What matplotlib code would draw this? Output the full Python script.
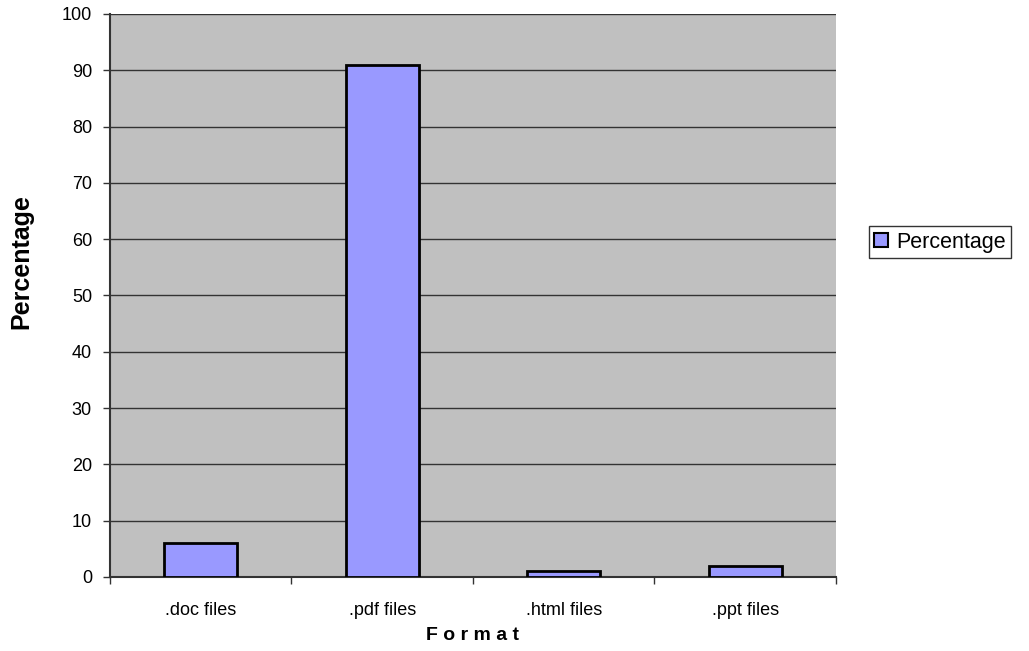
import matplotlib as mpl
mpl.use('Agg')
import matplotlib.pyplot as plt
import numpy as np

formats = ['.doc files', '.pdf files', '.html files', '.ppt files']
percentage = [6, 91, 1, 2]
y_ticks = [0, 10, 20, 30, 40, 50, 60, 70, 80, 90, 100]

plt.rcParams['font.family'] = ['Liberation Sans', 'DejaVu Sans']

fig = plt.figure(figsize=(10.29, 6.51), dpi=100)
ax = fig.add_axes([0.1069, 0.1137, 0.7055, 0.8648])
ax.set_facecolor('#C0C0C0')

x = np.arange(len(formats))
ax.bar(x, percentage, width=0.4, color='#9999FF', edgecolor='black',
       linewidth=2, label='Percentage', zorder=3)

ax.set_xlim(-0.5, len(formats) - 0.5)
ax.set_ylim(0, 100)
ax.set_yticks(y_ticks)
ax.tick_params(axis='y', labelsize=13, length=5, width=1, color='#333333', pad=8)
ax.grid(axis='y', color='#333333', linewidth=1, zorder=1)

# category ticks sit between the bars
ax.set_xticks(np.arange(-0.5, len(formats), 1.0))
ax.set_xticklabels([])
ax.set_xticks(x, minor=True)
ax.set_xticklabels(formats, minor=True, fontsize=13)
ax.tick_params(axis='x', which='major', length=5, width=1, color='#333333')
ax.tick_params(axis='x', which='minor', length=0, pad=18)

for s in ['top', 'right']:
    ax.spines[s].set_visible(False)
ax.spines['left'].set_color('#333333')
ax.spines['bottom'].set_color('#333333')
ax.spines['left'].set_linewidth(1.5)
ax.spines['bottom'].set_linewidth(1.5)

ax.set_ylabel('Percentage', fontsize=18, fontweight='bold')
ax.yaxis.set_label_coords(-0.106, 0.56)
ax.set_xlabel('F o r m a t', fontsize=14, fontweight='bold', labelpad=6)

leg = ax.legend(loc='center left', bbox_to_anchor=(1.03, 0.595), fontsize=15.5,
                frameon=True, fancybox=False, edgecolor='black',
                handlelength=0.65, handleheight=0.65, handletextpad=0.4,
                borderpad=0.25)
leg.get_frame().set_linewidth(1)
leg.legend_handles[0].set_linewidth(1.5)

plt.savefig('out.png', dpi=100)
plt.close('all')
